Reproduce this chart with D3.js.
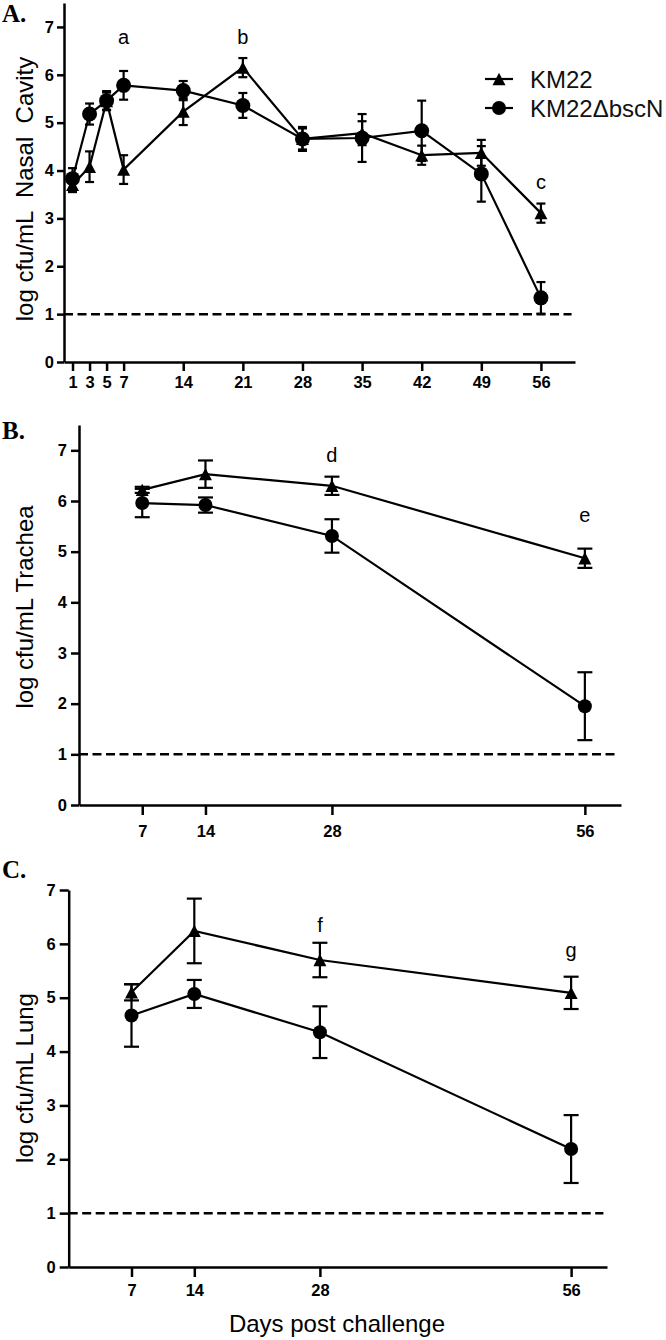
<!DOCTYPE html>
<html><head><meta charset="utf-8">
<script src="https://cdn.jsdelivr.net/npm/d3@7"></script>
<style>body{margin:0;background:#fff}svg{display:block}</style>
</head><body>
<script>
// ---- data ----
const seriesNames = ["KM22", "KM22\u0394bscN"];
const yTicks = [0,1,2,3,4,5,6,7];
const detectionLimit = 1;

const daysA = [1,3,5,7,14,21,28,35,42,49,56];
const km22A = [3.70,4.08,5.45,4.02,5.23,6.15,4.66,4.78,4.32,4.37,3.11];
const km22AErr = [0.15,0.32,0.18,0.30,0.28,0.20,0.25,0.25,0.20,0.27,0.20];
const bscnA = [3.83,5.18,5.46,5.78,5.67,5.36,4.66,4.68,4.83,3.93,1.34];
const bscnAErr = [0.22,0.22,0.20,0.30,0.20,0.26,0.22,0.50,0.63,0.58,0.33];
const lettersA = ["a","b","c"], letterDaysA = [7,21,56], letterLevelsA = [6.79,6.79,3.76];

const daysBC = [7,14,28,56];
const km22B = [6.22,6.53,6.30,4.87];
const km22BErr = [0.06,0.27,0.18,0.19];
const bscnB = [5.96,5.92,5.31,1.95];
const bscnBErr = [0.28,0.15,0.33,0.67];
const lettersB = ["d","e"], letterDaysB = [28,56], letterLevelsB = [6.9,5.72];

const km22C = [5.10,6.24,5.70,5.09];
const km22CErr = [0.15,0.60,0.32,0.30];
const bscnC = [4.67,5.07,4.36,2.19];
const bscnCErr = [0.58,0.26,0.48,0.63];
const lettersC = ["f","g"], letterDaysC = [28,56], letterLevelsC = [6.35,5.89];

// ---- drawing ----
const W = 666, H = 1340;
const svg = d3.select("body").append("svg").attr("width", W).attr("height", H);
const SANS = "'Liberation Sans', Arial, sans-serif";

function triPath(s){ const w=s, h=s*0.95; return `M0,${-h/2}L${w/2},${h/2}L${-w/2},${h/2}Z`; }

function panel(cfg){
  const g = svg.append("g");
  const x = d3.scaleLinear().domain([0,60]).range([cfg.x0, cfg.x1]);
  const y = d3.scaleLinear().domain([0,cfg.yMax]).range([cfg.y0, cfg.y1]);

  g.append("line").attr("x1", x(0)).attr("x2", x(59.6))
    .attr("y1", y(detectionLimit)).attr("y2", y(detectionLimit))
    .attr("stroke","#000").attr("stroke-width",2.5).attr("stroke-dasharray","9,4.5");

  const yAx = g.append("g").attr("transform",`translate(${x(0)},0)`)
    .call(d3.axisLeft(y).tickValues(yTicks).tickFormat(d3.format("d")).tickSize(cfg.yTick).tickSizeOuter(0).tickPadding(cfg.yPad));
  const xAx = g.append("g").attr("transform",`translate(0,${y(0)})`)
    .call(d3.axisBottom(x).tickValues(cfg.days).tickFormat(d3.format("d")).tickSize(cfg.xTick).tickSizeOuter(0).tickPadding(cfg.xPad));
  [yAx,xAx].forEach(a=>{
    a.select(".domain").attr("stroke","#000").attr("stroke-width",2.5);
    a.selectAll(".tick line").attr("stroke","#000").attr("stroke-width",2.5);
    a.selectAll(".tick text").attr("fill","#000").style("font-family",SANS)
      .style("font-weight","bold").style("font-size","16.5px");
  });

  const series = [
    {vals: cfg.km, err: cfg.kmErr, shape: "tri"},
    {vals: cfg.bs, err: cfg.bsErr, shape: "circ"}
  ];
  const line = d3.line().x(d=>x(d[0])).y(d=>y(d[1]));
  series.forEach(s=>{
    const pts = cfg.days.map((d,i)=>[d, s.vals[i], s.err[i]]);
    g.append("path").datum(pts).attr("d", line).attr("fill","none")
      .attr("stroke","#000").attr("stroke-width",2.2);
    const eb = g.append("g");
    pts.forEach(p=>{
      const cx = x(p[0]), t = y(p[1]+p[2]), b = y(p[1]-p[2]);
      eb.append("line").attr("x1",cx).attr("x2",cx).attr("y1",t).attr("y2",b)
        .attr("stroke","#000").attr("stroke-width",2.2);
      [t,b].forEach(yy=>eb.append("line").attr("x1",cx-cfg.cap).attr("x2",cx+cfg.cap)
        .attr("y1",yy).attr("y2",yy).attr("stroke","#000").attr("stroke-width",2.2));
    });
    pts.forEach(p=>{
      if (s.shape==="tri") g.append("path").attr("d", triPath(cfg.tri))
        .attr("transform",`translate(${x(p[0])},${y(p[1])})`).attr("fill","#000");
      else g.append("circle").attr("cx",x(p[0])).attr("cy",y(p[1])).attr("r",cfg.r).attr("fill","#000");
    });
  });

  cfg.letters.forEach((L,i)=>{
    g.append("text").attr("x", x(cfg.letterDays[i])).attr("y", y(cfg.letterLevels[i]))
      .attr("text-anchor","middle").attr("dominant-baseline","central")
      .style("font-family",SANS).style("font-size","20px").text(L);
  });

  g.append("text").attr("transform",`translate(33,${cfg.ylabelMid}) rotate(-90)`)
    .attr("text-anchor","middle").style("font-family",SANS).style("font-size","24px")
    .style("white-space","pre").attr("xml:space","preserve")
    .text(cfg.ylabel);

  g.append("text").attr("x",2).attr("y",cfg.labelY)
    .style("font-family","'Liberation Serif', 'Times New Roman', serif")
    .style("font-weight","bold").style("font-size","25px").text(cfg.panel);

  return {g, x, y};
}

panel({x0:64, x1:575, y0:362, y1:3, yMax:7.5, days:daysA,
  km:km22A, kmErr:km22AErr, bs:bscnA, bsErr:bscnAErr,
  letters:lettersA, letterDays:letterDaysA, letterLevels:letterLevelsA,
  yTick:7, yPad:3, xTick:9, xPad:5, cap:4.5, r:7.5, tri:13,
  ylabel:"log cfu/mL  Nasal  Cavity", ylabelMid:189, panel:"A.", labelY:22});

panel({x0:79, x1:621, y0:805, y1:425, yMax:7.5, days:daysBC,
  km:km22B, kmErr:km22BErr, bs:bscnB, bsErr:bscnBErr,
  letters:lettersB, letterDays:letterDaysB, letterLevels:letterLevelsB,
  yTick:8, yPad:4, xTick:10, xPad:10, cap:7.5, r:7, tri:13,
  ylabel:"log cfu/mL Trachea", ylabelMid:607, panel:"B.", labelY:439});

panel({x0:68.7, x1:607, y0:1267, y1:890, yMax:7, days:daysBC,
  km:km22C, kmErr:km22CErr, bs:bscnC, bsErr:bscnCErr,
  letters:lettersC, letterDays:letterDaysC, letterLevels:letterLevelsC,
  yTick:9, yPad:4, xTick:10, xPad:7, cap:7.5, r:7, tri:13,
  ylabel:"log cfu/mL Lung", ylabelMid:1078, panel:"C.", labelY:878});

svg.append("text").attr("x", 337).attr("y", 1332).attr("text-anchor","middle")
  .style("font-family",SANS).style("font-size","24px").text("Days post challenge");

const leg = svg.append("g");
seriesNames.forEach((name,i)=>{
  const ly = 79 + i*29;
  leg.append("line").attr("x1",485).attr("x2",513).attr("y1",ly).attr("y2",ly)
    .attr("stroke","#000").attr("stroke-width",2.2);
  if (i===0) leg.append("path").attr("d",triPath(13)).attr("transform",`translate(499,${ly})`).attr("fill","#000");
  else leg.append("circle").attr("cx",499).attr("cy",ly).attr("r",7).attr("fill","#000");
  leg.append("text").attr("x",530).attr("y",ly).attr("dominant-baseline","central")
    .style("font-family",SANS).style("font-size","24px").attr("fill","#111").text(name);
});
</script>
</body></html>
